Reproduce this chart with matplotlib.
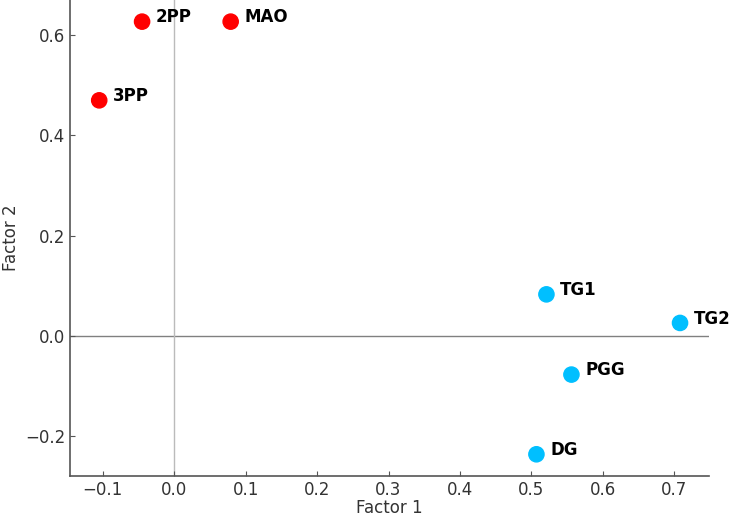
import matplotlib
matplotlib.use("Agg")
import matplotlib.pyplot as plt

names = ["2PP", "MAO", "3PP", "TG1", "TG2", "PGG", "DG"]
factor1 = [-0.045, 0.079, -0.105, 0.521, 0.708, 0.556, 0.507]
factor2 = [0.627, 0.627, 0.470, 0.083, 0.026, -0.077, -0.236]
colors = ["#ff0000", "#ff0000", "#ff0000", "#00bfff", "#00bfff", "#00bfff", "#00bfff"]

fig, ax = plt.subplots(figsize=(7.31, 5.19), dpi=100)
fig.subplots_adjust(left=0.096, right=0.97, bottom=0.083, top=1.0)

ax.scatter(factor1, factor2, c=colors, s=120, zorder=3)
for n, x, y in zip(names, factor1, factor2):
    ax.annotate(n, (x, y), xytext=(10, 3), textcoords="offset points",
                fontsize=12, fontweight="bold", va="center")

ax.axhline(0, color="gray", lw=1, zorder=1)
ax.axvline(0, color="#bbbbbb", lw=1, zorder=1)

for s in ["top", "right"]:
    ax.spines[s].set_visible(False)
for s in ["left", "bottom"]:
    ax.spines[s].set_color("#555555")
    ax.spines[s].set_linewidth(1.2)
ax.tick_params(direction="in", colors="#555555", labelcolor="#333333", labelsize=12)
ax.set_xlabel("Factor 1", fontsize=12, color="#333333", labelpad=0)
ax.set_ylabel("Factor 2", fontsize=12, color="#333333")

fig.savefig("out.png", dpi=100)
